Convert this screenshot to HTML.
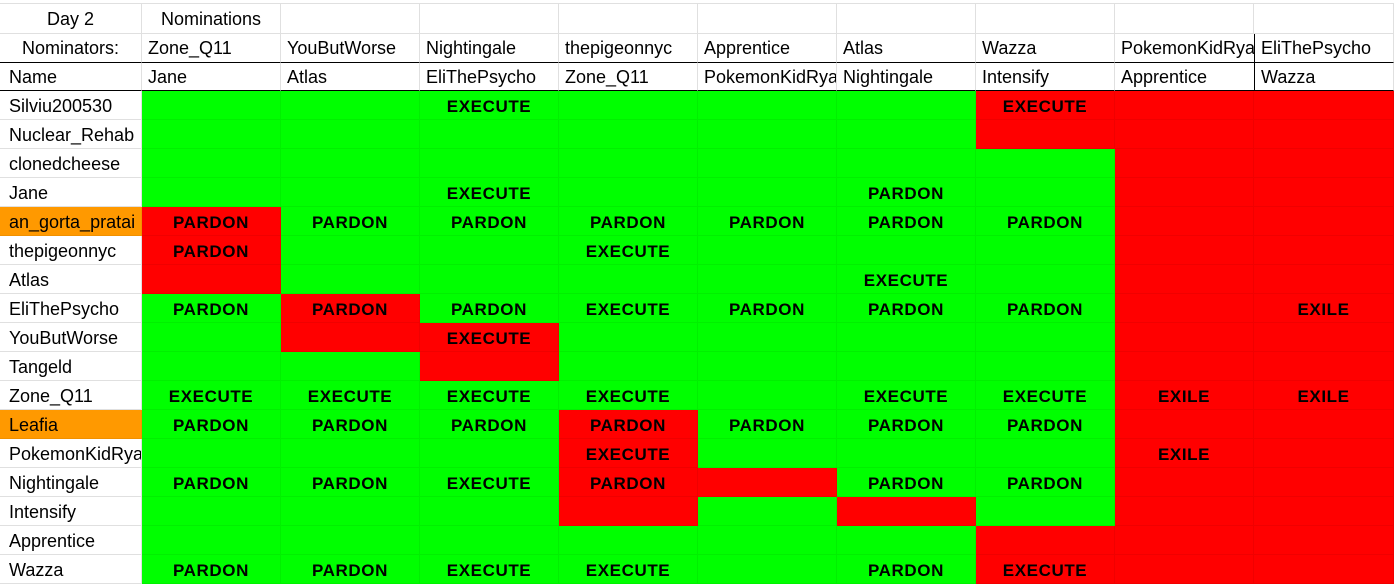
<!DOCTYPE html>
<html><head><meta charset="utf-8"><style>
html,body{margin:0;padding:0;background:#fff;width:1394px;height:585px;overflow:hidden}
table{position:absolute;left:0;top:3px;border-collapse:separate;border-spacing:0;table-layout:fixed;width:1394px;font-family:"Liberation Sans",Arial,sans-serif;font-size:18px;color:#000;border-top:1px solid #e0e0e0}
td{border-right:1px solid #e0e0e0;border-bottom:1px solid #e0e0e0;padding:0 0 0 6px;height:28px;white-space:nowrap;overflow:hidden;vertical-align:middle;line-height:20px;box-sizing:border-box}
td:first-child{padding-left:9px}
tr.h1 td{height:30px}
tr.h2 td{height:29px;border-bottom:1px solid #000}
tr.h3 td{height:28px;border-bottom:1px solid #000}
tr.d td{height:29px;padding-top:2px}
td.c{text-align:center;padding:0!important}
td.g,td.r,td.o{border-color:rgba(0,0,0,0.06)}
.g{background:#00ff00}.r{background:#ff0000}.o{background:#ff9900}
td.b{font-weight:bold;text-align:center;padding:3px 0 0 0!important;font-size:17px;letter-spacing:0.6px}
td.vb{border-left:1px solid #000}
td.p8{border-right:none}
</style></head><body>
<table>
<colgroup><col style="width:142px"><col style="width:139px"><col style="width:139px"><col style="width:139px"><col style="width:139px"><col style="width:139px"><col style="width:139px"><col style="width:139px"><col style="width:139px"><col style="width:140px"></colgroup>
<tr class="h1"><td class="c">Day 2</td><td class="c">Nominations</td><td></td><td></td><td></td><td></td><td></td><td></td><td></td><td></td></tr>
<tr class="h2"><td class="c">Nominators:</td><td>Zone_Q11</td><td>YouButWorse</td><td>Nightingale</td><td>thepigeonnyc</td><td>Apprentice</td><td>Atlas</td><td>Wazza</td><td class="p8">PokemonKidRyan</td><td class="vb">EliThePsycho</td></tr>
<tr class="h3"><td>Name</td><td>Jane</td><td>Atlas</td><td>EliThePsycho</td><td>Zone_Q11</td><td>PokemonKidRyan</td><td>Nightingale</td><td>Intensify</td><td class="p8">Apprentice</td><td class="vb">Wazza</td></tr>
<tr class="d"><td>Silviu200530</td><td class="g"></td><td class="g"></td><td class="g b">EXECUTE</td><td class="g"></td><td class="g"></td><td class="g"></td><td class="r b">EXECUTE</td><td class="r"></td><td class="r"></td></tr>
<tr class="d"><td>Nuclear_Rehab</td><td class="g"></td><td class="g"></td><td class="g"></td><td class="g"></td><td class="g"></td><td class="g"></td><td class="r"></td><td class="r"></td><td class="r"></td></tr>
<tr class="d"><td>clonedcheese</td><td class="g"></td><td class="g"></td><td class="g"></td><td class="g"></td><td class="g"></td><td class="g"></td><td class="g"></td><td class="r"></td><td class="r"></td></tr>
<tr class="d"><td>Jane</td><td class="g"></td><td class="g"></td><td class="g b">EXECUTE</td><td class="g"></td><td class="g"></td><td class="g b">PARDON</td><td class="g"></td><td class="r"></td><td class="r"></td></tr>
<tr class="d"><td class="o">an_gorta_pratai</td><td class="r b">PARDON</td><td class="g b">PARDON</td><td class="g b">PARDON</td><td class="g b">PARDON</td><td class="g b">PARDON</td><td class="g b">PARDON</td><td class="g b">PARDON</td><td class="r"></td><td class="r"></td></tr>
<tr class="d"><td>thepigeonnyc</td><td class="r b">PARDON</td><td class="g"></td><td class="g"></td><td class="g b">EXECUTE</td><td class="g"></td><td class="g"></td><td class="g"></td><td class="r"></td><td class="r"></td></tr>
<tr class="d"><td>Atlas</td><td class="r"></td><td class="g"></td><td class="g"></td><td class="g"></td><td class="g"></td><td class="g b">EXECUTE</td><td class="g"></td><td class="r"></td><td class="r"></td></tr>
<tr class="d"><td>EliThePsycho</td><td class="g b">PARDON</td><td class="r b">PARDON</td><td class="g b">PARDON</td><td class="g b">EXECUTE</td><td class="g b">PARDON</td><td class="g b">PARDON</td><td class="g b">PARDON</td><td class="r"></td><td class="r b">EXILE</td></tr>
<tr class="d"><td>YouButWorse</td><td class="g"></td><td class="r"></td><td class="r b">EXECUTE</td><td class="g"></td><td class="g"></td><td class="g"></td><td class="g"></td><td class="r"></td><td class="r"></td></tr>
<tr class="d"><td>Tangeld</td><td class="g"></td><td class="g"></td><td class="r"></td><td class="g"></td><td class="g"></td><td class="g"></td><td class="g"></td><td class="r"></td><td class="r"></td></tr>
<tr class="d"><td>Zone_Q11</td><td class="g b">EXECUTE</td><td class="g b">EXECUTE</td><td class="g b">EXECUTE</td><td class="g b">EXECUTE</td><td class="g"></td><td class="g b">EXECUTE</td><td class="g b">EXECUTE</td><td class="r b">EXILE</td><td class="r b">EXILE</td></tr>
<tr class="d"><td class="o">Leafia</td><td class="g b">PARDON</td><td class="g b">PARDON</td><td class="g b">PARDON</td><td class="r b">PARDON</td><td class="g b">PARDON</td><td class="g b">PARDON</td><td class="g b">PARDON</td><td class="r"></td><td class="r"></td></tr>
<tr class="d"><td>PokemonKidRyan</td><td class="g"></td><td class="g"></td><td class="g"></td><td class="r b">EXECUTE</td><td class="g"></td><td class="g"></td><td class="g"></td><td class="r b">EXILE</td><td class="r"></td></tr>
<tr class="d"><td>Nightingale</td><td class="g b">PARDON</td><td class="g b">PARDON</td><td class="g b">EXECUTE</td><td class="r b">PARDON</td><td class="r"></td><td class="g b">PARDON</td><td class="g b">PARDON</td><td class="r"></td><td class="r"></td></tr>
<tr class="d"><td>Intensify</td><td class="g"></td><td class="g"></td><td class="g"></td><td class="r"></td><td class="g"></td><td class="r"></td><td class="g"></td><td class="r"></td><td class="r"></td></tr>
<tr class="d"><td>Apprentice</td><td class="g"></td><td class="g"></td><td class="g"></td><td class="g"></td><td class="g"></td><td class="g"></td><td class="r"></td><td class="r"></td><td class="r"></td></tr>
<tr class="d"><td>Wazza</td><td class="g b">PARDON</td><td class="g b">PARDON</td><td class="g b">EXECUTE</td><td class="g b">EXECUTE</td><td class="g"></td><td class="g b">PARDON</td><td class="r b">EXECUTE</td><td class="r"></td><td class="r"></td></tr>
</table>
</body></html>
